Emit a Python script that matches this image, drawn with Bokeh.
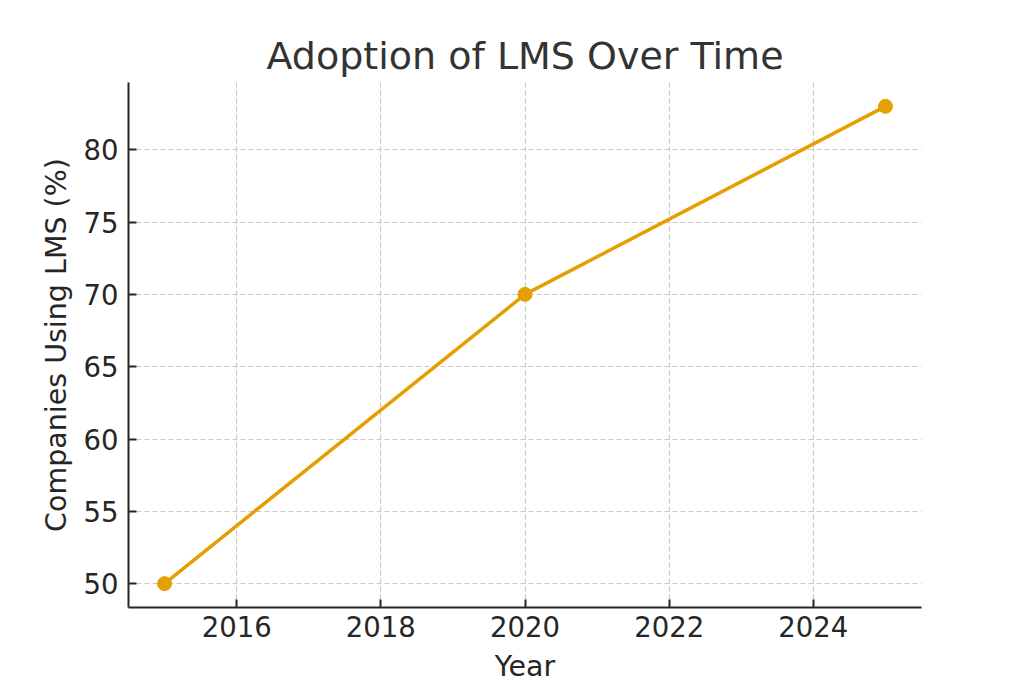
from bokeh.plotting import figure
from bokeh.models import Range1d, FixedTicker, ColumnDataSource
from bokeh.embed import file_html
from bokeh.resources import INLINE

years = [2015, 2020, 2025]
adoption = [50, 70, 83]
x_ticks = [2016, 2018, 2020, 2022, 2024]
y_ticks = [50, 55, 60, 65, 70, 75, 80]

FONT = "DejaVu Sans"
ORANGE = "#E69F00"

src = ColumnDataSource(data=dict(year=years, val=adoption))

p = figure(frame_width=793, frame_height=525, output_backend="svg", toolbar_location=None,
           x_range=Range1d(2014.5, 2025.5), y_range=Range1d(48.35, 84.65),
           min_border_left=128, min_border_right=103, min_border_top=82, min_border_bottom=76,
           title="Adoption of LMS Over Time")
p.outline_line_color = None
p.background_fill_color = "white"
p.border_fill_color = "white"

p.title.align = "center"
p.title.text_font = FONT
p.title.text_font_size = "38px"
p.title.text_font_style = "normal"
p.title.text_color = "#333333"
p.title.standoff = 10

p.line("year", "val", source=src, line_color=ORANGE, line_width=3.5)
p.scatter("year", "val", source=src, size=14, fill_color=ORANGE, line_color=ORANGE)

for ax in (p.xaxis[0], p.yaxis[0]):
    ax.major_label_text_font = FONT
    ax.major_label_text_font_size = "27.5px"
    ax.major_label_text_color = "#262626"
    ax.axis_label_text_font = FONT
    ax.axis_label_text_font_size = "28.5px"
    ax.axis_label_text_font_style = "normal"
    ax.axis_label_text_color = "#262626"
    ax.axis_line_color = "#262626"
    ax.axis_line_width = 2
    ax.major_tick_line_color = "#262626"
    ax.major_tick_line_width = 2
    ax.major_tick_in = 8
    ax.major_tick_out = 0
    ax.minor_tick_line_color = None

p.xaxis[0].ticker = FixedTicker(ticks=x_ticks)
p.yaxis[0].ticker = FixedTicker(ticks=y_ticks)
p.xaxis[0].axis_label = "Year"
p.yaxis[0].axis_label = "Companies Using LMS (%)"
p.xaxis[0].major_label_standoff = 8
p.yaxis[0].major_label_standoff = 10
p.xaxis[0].axis_label_standoff = 10
p.yaxis[0].axis_label_standoff = 8

for g in (p.xgrid[0], p.ygrid[0]):
    g.grid_line_color = "#c8c8c8"
    g.grid_line_dash = "5 3"
    g.grid_line_width = 1.2

open("out.html", "w").write(file_html(p, INLINE))
